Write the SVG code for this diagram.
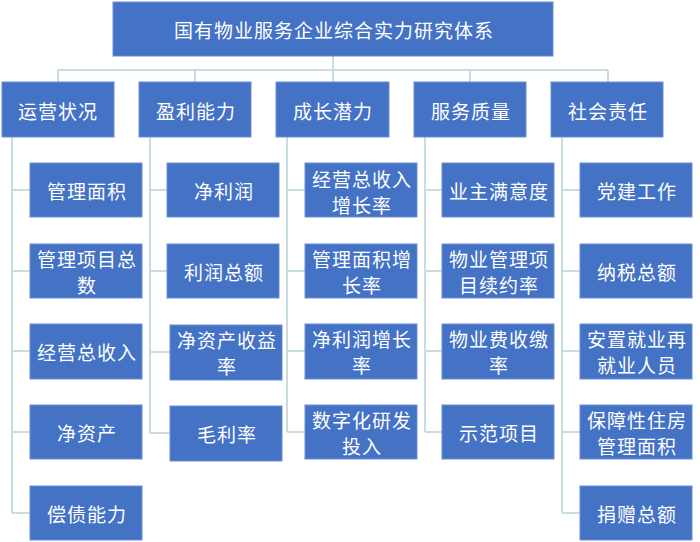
<svg xmlns="http://www.w3.org/2000/svg" width="700" height="542" viewBox="0 0 700 542">
<style>
.b{fill:#4472C4;stroke:#6a8fd3;stroke-width:1}
.t{fill:#fff;font-family:"Noto Sans CJK SC","Noto Sans",sans-serif;font-size:19px;letter-spacing:1px;text-anchor:middle;dominant-baseline:central}
.c{fill:none;stroke:#c9dce2;stroke-width:2}
</style>
<rect width="700" height="542" fill="#fff"/>
<g id="connectors">
<path class="c" d="M333 56V70M58 70H608M58 70V82M195 70V82M333 70V82M470 70V82M608 70V82"/>
<path class="c" d="M12 137V513M12 190H30M12 271H30M12 351H30M12 432H30M12 513H30"/>
<path class="c" d="M150 137V433M150 190H167M150 271H167M150 352H170M150 433H170"/>
<path class="c" d="M287 137V432M287 190H305M287 271H305M287 351H305M287 432H305"/>
<path class="c" d="M425 137V432M425 190H442M425 271H442M425 351H442M425 432H442"/>
<path class="c" d="M562 137V513M562 190H580M562 271H580M562 351H580M562 432H580M562 513H580"/>
</g>
<g id="root"><rect class="b" x="113" y="2" width="440" height="54"/><text class="t" x="334" y="29">国有物业服务企业综合实力研究体系</text></g>
<g id="n1"><rect class="b" x="2" y="82" width="112" height="55"/><text class="t" x="58" y="110">运营状况</text></g>
<g id="n2"><rect class="b" x="139" y="82" width="112" height="55"/><text class="t" x="196" y="110">盈利能力</text></g>
<g id="n3"><rect class="b" x="276" y="82" width="113" height="55"/><text class="t" x="333" y="110">成长潜力</text></g>
<g id="n4"><rect class="b" x="414" y="82" width="112" height="55"/><text class="t" x="471" y="110">服务质量</text></g>
<g id="n5"><rect class="b" x="551" y="82" width="112" height="55"/><text class="t" x="608" y="110">社会责任</text></g>

<g id="n1a"><rect class="b" x="30" y="163" width="112" height="54"/><text class="t" x="87" y="190">管理面积</text></g>
<g id="n1b"><rect class="b" x="30" y="244" width="112" height="54"/><text class="t" x="87" y="258">管理项目总</text><text class="t" x="87" y="284">数</text></g>
<g id="n1c"><rect class="b" x="30" y="324" width="112" height="55"/><text class="t" x="87" y="351">经营总收入</text></g>
<g id="n1d"><rect class="b" x="30" y="405" width="112" height="54"/><text class="t" x="87" y="432">净资产</text></g>
<g id="n1e"><rect class="b" x="30" y="486" width="112" height="54"/><text class="t" x="87" y="513">偿债能力</text></g>

<g id="n2a"><rect class="b" x="167" y="163" width="112" height="54"/><text class="t" x="224" y="190">净利润</text></g>
<g id="n2b"><rect class="b" x="167" y="244" width="112" height="54"/><text class="t" x="224" y="271">利润总额</text></g>
<g id="n2c"><rect class="b" x="170" y="325" width="112" height="55"/><text class="t" x="227" y="339">净资产收益</text><text class="t" x="227" y="365">率</text></g>
<g id="n2d"><rect class="b" x="170" y="406" width="112" height="55"/><text class="t" x="227" y="433">毛利率</text></g>

<g id="n3a"><rect class="b" x="305" y="163" width="112" height="54"/><text class="t" x="362" y="178">经营总收入</text><text class="t" x="362" y="204">增长率</text></g>
<g id="n3b"><rect class="b" x="305" y="244" width="112" height="54"/><text class="t" x="362" y="258">管理面积增</text><text class="t" x="362" y="284">长率</text></g>
<g id="n3c"><rect class="b" x="305" y="324" width="112" height="55"/><text class="t" x="362" y="338">净利润增长</text><text class="t" x="362" y="364">率</text></g>
<g id="n3d"><rect class="b" x="305" y="405" width="112" height="54"/><text class="t" x="362" y="419">数字化研发</text><text class="t" x="362" y="445">投入</text></g>

<g id="n4a"><rect class="b" x="442" y="163" width="112" height="54"/><text class="t" x="499" y="190">业主满意度</text></g>
<g id="n4b"><rect class="b" x="442" y="244" width="112" height="54"/><text class="t" x="499" y="258">物业管理项</text><text class="t" x="499" y="284">目续约率</text></g>
<g id="n4c"><rect class="b" x="442" y="324" width="112" height="55"/><text class="t" x="499" y="338">物业费收缴</text><text class="t" x="499" y="364">率</text></g>
<g id="n4d"><rect class="b" x="442" y="405" width="112" height="54"/><text class="t" x="499" y="432">示范项目</text></g>

<g id="n5a"><rect class="b" x="580" y="163" width="112" height="54"/><text class="t" x="637" y="190">党建工作</text></g>
<g id="n5b"><rect class="b" x="580" y="244" width="112" height="54"/><text class="t" x="637" y="271">纳税总额</text></g>
<g id="n5c"><rect class="b" x="580" y="324" width="112" height="55"/><text class="t" x="637" y="338">安置就业再</text><text class="t" x="637" y="364">就业人员</text></g>
<g id="n5d"><rect class="b" x="580" y="405" width="112" height="54"/><text class="t" x="637" y="419">保障性住房</text><text class="t" x="637" y="445">管理面积</text></g>
<g id="n5e"><rect class="b" x="580" y="486" width="112" height="54"/><text class="t" x="637" y="513">捐赠总额</text></g>
</svg>
